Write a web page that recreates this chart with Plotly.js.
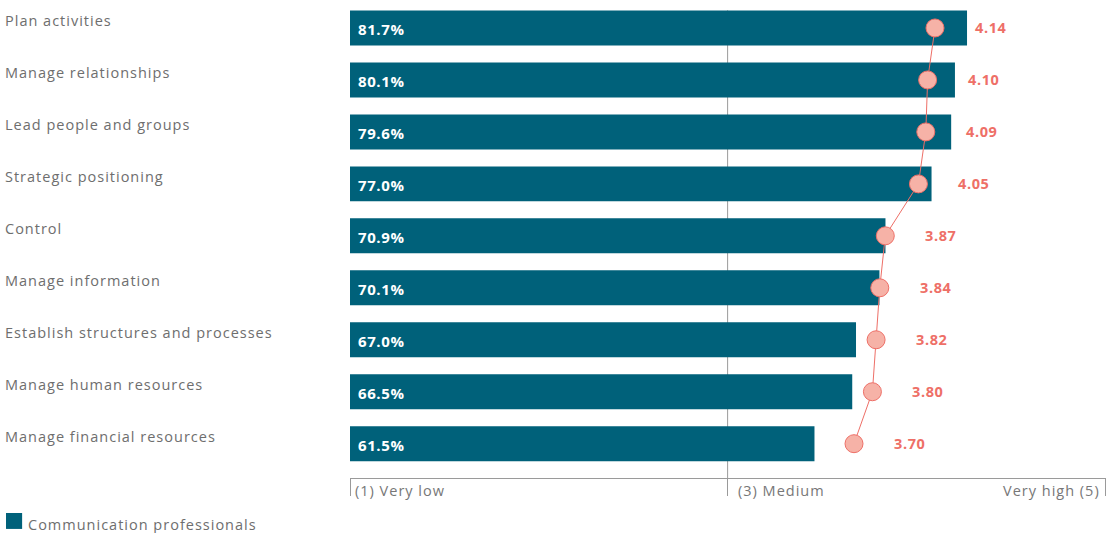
<!DOCTYPE html>
<html>
<head>
<meta charset="utf-8">
<script src="https://cdn.plot.ly/plotly-3.0.1.min.js"></script>
<style>
html,body{margin:0;padding:0;background:#fff;}
#chart{width:1106px;height:533px;}
text.annotation-text{letter-spacing:1px;}
text.annotation-text[style*="700"]{letter-spacing:0.6px;}
</style>
</head>
<body>
<div id="chart"></div>
<script>
const categories = ["Plan activities","Manage relationships","Lead people and groups","Strategic positioning","Control","Manage information","Establish structures and processes","Manage human resources","Manage financial resources"];
const sharePct = [81.7, 80.1, 79.6, 77.0, 70.9, 70.1, 67.0, 66.5, 61.5];
const meanScore = [4.14, 4.10, 4.09, 4.05, 3.87, 3.84, 3.82, 3.80, 3.70];
const scaleTickVals = [0, 50, 100];
const scaleTickText = ["(1) Very low", "(3) Medium", "Very high (5)"];
const seriesName = "Communication professionals";

const TEAL = "#00617A";
const CORAL = "#EE6F67";
const GREY_TXT = "#6e6e6e";
const FONT = "Open Sans, Lato, sans-serif";

const bars = {
  type: "bar", orientation: "h", name: seriesName,
  y: categories, x: sharePct,
  marker: {color: TEAL, line: {width: 0}},
  hoverinfo: "skip", showlegend: false
};
const dots = {
  type: "scatter", mode: "lines+markers", xaxis: "x2",
  y: categories, x: meanScore,
  line: {color: CORAL, width: 1},
  marker: {size: 18, color: "#F6B2A7", line: {color: CORAL, width: 1}},
  hoverinfo: "skip", showlegend: false
};

const annotations = [];
categories.forEach((c, i) => {
  annotations.push({xref: "paper", yref: "y", x: -0.4563, y: c, xanchor: "left", yanchor: "middle",
    xshift: -2, yshift: 7, showarrow: false, text: c, font: {family: FONT, size: 14.5, color: GREY_TXT}});
  annotations.push({xref: "x", yref: "y", x: 0, y: c, xanchor: "left", yanchor: "middle",
    xshift: 6, yshift: -1, showarrow: false, text: sharePct[i].toFixed(1) + "%",
    font: {family: FONT, size: 15, color: "#ffffff", weight: 700}});
  annotations.push({xref: "x2", yref: "y", x: meanScore[i], y: c, xanchor: "left", yanchor: "middle",
    xshift: 38, showarrow: false, text: meanScore[i].toFixed(2),
    font: {family: FONT, size: 14.5, color: CORAL, weight: 700}});
});
const tickAnchors = ["left", "left", "right"];
const tickShifts = [3, 8, -3];
scaleTickVals.forEach((v, i) => {
  annotations.push({xref: "x", yref: "paper", x: v, y: -0.026, xanchor: tickAnchors[i], yanchor: "middle",
    xshift: tickShifts[i], showarrow: false, text: scaleTickText[i],
    font: {family: FONT, size: 14.5, color: "#777777"}});
});
annotations.push({xref: "paper", yref: "paper", x: -0.4335, y: -0.0987, xanchor: "left", yanchor: "middle",
  xshift: 4, showarrow: false, text: seriesName, font: {family: FONT, size: 14.5, color: GREY_TXT}});

const layout = {
  width: 1106, height: 533,
  margin: {l: 350, r: 0, t: 2, b: 55},
  paper_bgcolor: "#ffffff", plot_bgcolor: "rgba(0,0,0,0)",
  bargap: 0.327,
  showlegend: false,
  xaxis: {range: [0, 100.1], tickvals: scaleTickVals, showticklabels: false,
    ticks: "outside", ticklen: 17, tickcolor: "#9a9a9a", tickwidth: 1,
    showline: true, linecolor: "#9a9a9a", linewidth: 1, showgrid: false, zeroline: false, fixedrange: true},
  xaxis2: {overlaying: "x", range: [0.962, 5.069], visible: false, fixedrange: true},
  yaxis: {type: "category", categoryorder: "array", categoryarray: categories,
    range: [8.66, -0.5], showticklabels: false, showgrid: false, zeroline: false, ticks: "", fixedrange: true},
  shapes: [
    {type: "line", xref: "x", yref: "y", x0: 50, x1: 50, y0: -0.34, y1: 8.66,
      line: {color: "#9a9a9a", width: 1}, layer: "below"},
    {type: "rect", xref: "paper", yref: "paper", x0: -0.455, x1: -0.4337, y0: -0.0735, y1: -0.107,
      fillcolor: TEAL, line: {width: 0}}
  ],
  annotations: annotations
};

Plotly.newPlot("chart", [bars, dots], layout, {displayModeBar: false, staticPlot: true});
</script>
</body>
</html>
